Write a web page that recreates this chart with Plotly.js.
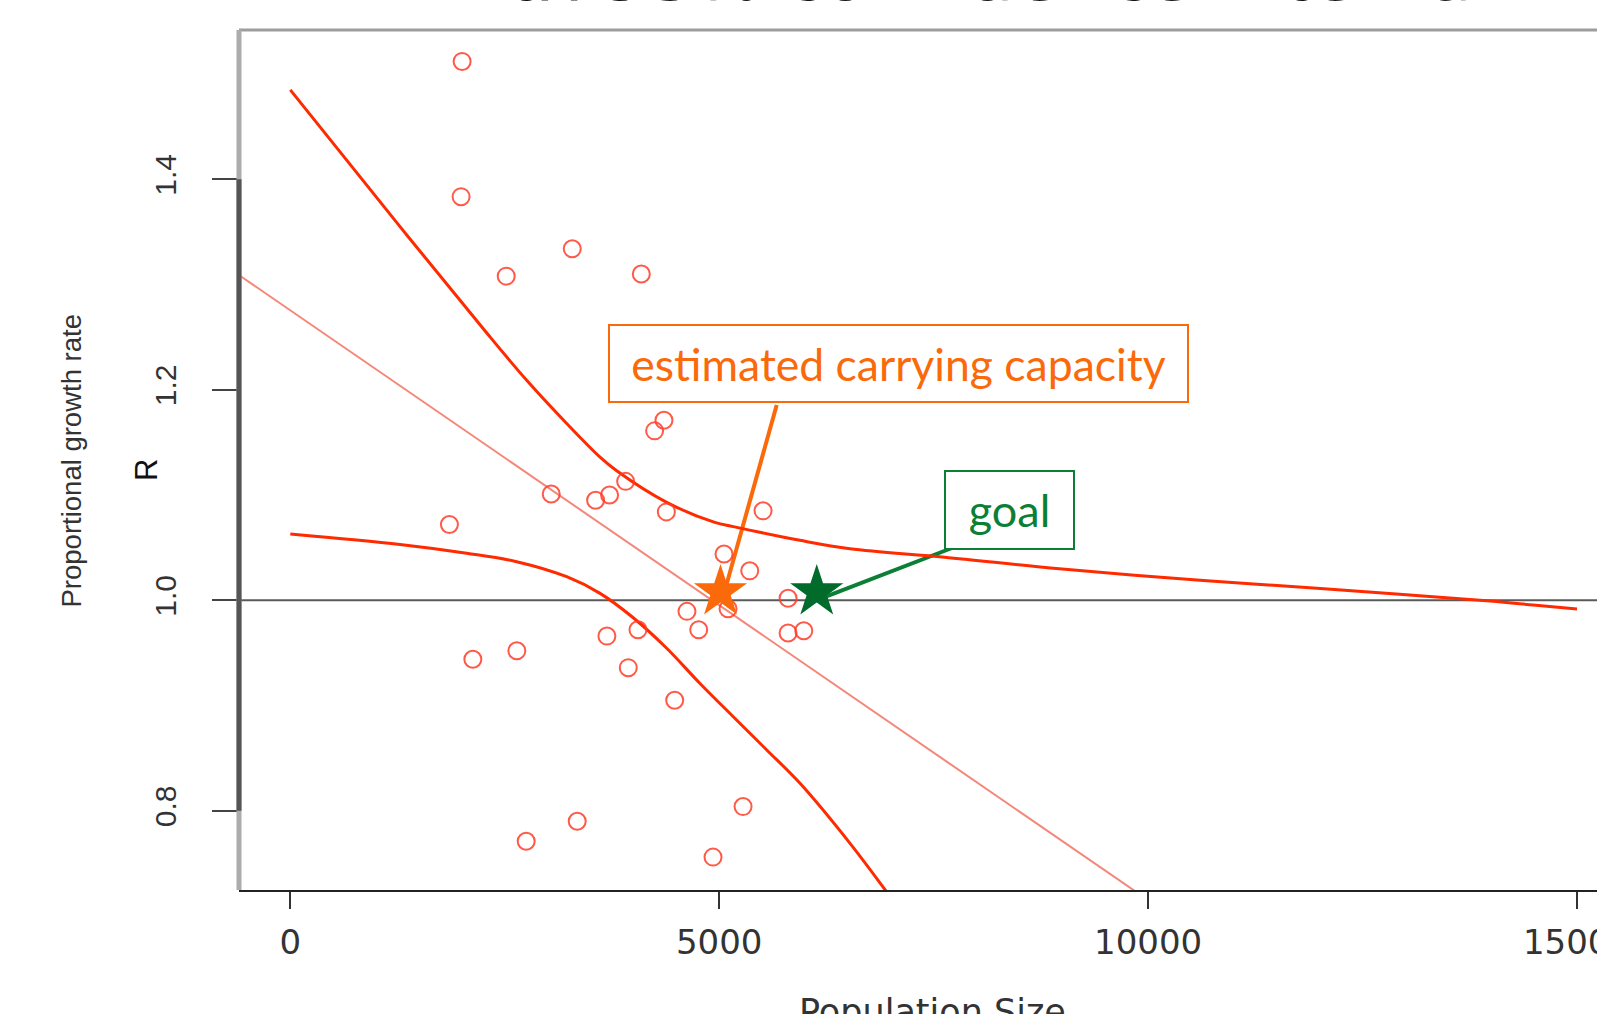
<!DOCTYPE html>
<html>
<head>
<meta charset="utf-8">
<script src="https://cdn.plot.ly/plotly-3.0.1.min.js"></script>
<style>
  html, body { margin: 0; padding: 0; background: #ffffff; }
  #chart { width: 1597px; height: 1014px; }
</style>
</head>
<body>
<div id="chart"></div>
<script>
// ---- data ----
const popSize = [2003, 1991, 3287, 2517, 4092, 4356, 4247, 3909, 3042, 3559, 3722, 4384, 5511, 1855, 5056, 5356,
                 5103, 5803, 4624, 4761, 4053, 3691, 5803, 5986, 2641, 2128, 3940, 4481, 5278, 3345, 2750, 4928];
const growthR = [1.512, 1.3835, 1.334, 1.308, 1.310, 1.171, 1.161, 1.113, 1.101, 1.095, 1.100, 1.084, 1.085, 1.072, 1.044, 1.028,
                 0.992, 1.002, 0.9895, 0.972, 0.972, 0.966, 0.969, 0.971, 0.952, 0.944, 0.936, 0.905, 0.804, 0.790, 0.771, 0.756];

const fitX = [-600, 12000];
const fitY = [1.3091, 0.6031];

const upperX = [0, 1279, 2250, 2756, 3222, 3611, 3805, 4388, 4949, 5164, 5942, 6525, 7626, 8964, 10605, 12050, 13985, 14490, 15000];
const upperY = [1.485, 1.355, 1.258, 1.209, 1.168, 1.136, 1.123, 1.093, 1.074, 1.070, 1.057, 1.049, 1.041, 1.030, 1.019, 1.011, 0.9993, 0.9955, 0.9917];

const lowerX = [0, 1279, 2056, 2639, 3222, 3611, 3998, 4388, 4776, 5164, 5554, 5942, 6525, 6944, 7000];
const lowerY = [1.063, 1.053, 1.0447, 1.0367, 1.0224, 1.0066, 0.9834, 0.9544, 0.921, 0.8894, 0.8578, 0.8261, 0.7691, 0.724, 0.718];

const carryingX = [5015];
const carryingY = [1.008];
const goalX = [6137];
const goalY = [1.008];

const xTickVals = [0, 5000, 10000, 15000];
const xTickText = ['0', '5000', '10000', '15000'];
const yTickVals = [0.8, 1.0, 1.2, 1.4];
const yTickText = ['0.8', '1.0', '1.2', '1.4'];

// ---- layout geometry (pixels) ----
const W = 1597, H = 1014;
const L = 239, R = 1597, T = 30, B = 890;
const px2x = p => (p - L) / (R - L);
const py2y = p => (B - p) / (B - T);

const ORANGE = '#FA6A0A';
const GREEN = '#0A7F35';
const STARGREEN = '#006B2A';

const traces = [
  { x: fitX, y: fitY, type: 'scatter', mode: 'lines',
    line: { color: '#F4877A', width: 2 }, hoverinfo: 'skip', showlegend: false },
  { x: upperX, y: upperY, type: 'scatter', mode: 'lines',
    line: { color: '#FF2A00', width: 3, shape: 'spline', smoothing: 1.0 }, showlegend: false },
  { x: lowerX, y: lowerY, type: 'scatter', mode: 'lines',
    line: { color: '#FF2A00', width: 3, shape: 'spline', smoothing: 1.0 }, showlegend: false },
  { x: popSize, y: growthR, type: 'scatter', mode: 'markers',
    marker: { symbol: 'circle-open', size: 17, color: 'rgba(255,60,40,0.85)', line: { width: 2 } },
    showlegend: false },
  { x: carryingX, y: carryingY, type: 'scatter', mode: 'markers',
    marker: { symbol: 'star', size: 40, color: ORANGE, line: { width: 0 } }, showlegend: false },
  { x: goalX, y: goalY, type: 'scatter', mode: 'markers',
    marker: { symbol: 'star', size: 40, color: STARGREEN, line: { width: 0 } }, showlegend: false }
];

const layout = {
  width: W, height: H,
  margin: { l: L, r: W - R, t: T, b: H - B, pad: 0 },
  paper_bgcolor: '#ffffff', plot_bgcolor: '#ffffff',
  showlegend: false,
  xaxis: {
    range: [-598, 15233], showgrid: false, zeroline: false,
    showline: true, linecolor: '#222222', linewidth: 2,
    ticks: 'outside', ticklen: 17, tickwidth: 2, tickcolor: '#333333',
    tickvals: xTickVals, ticktext: xTickText,
    ticklabelstandoff: 4, ticklabeloverflow: 'allow',
    tickfont: { family: 'DejaVu Sans', size: 34, color: '#333333' }
  },
  yaxis: {
    range: [0.72475, 1.54185], showgrid: false, zeroline: false,
    showline: false,
    ticks: 'outside', ticklen: 26, tickwidth: 2, tickcolor: '#444444',
    tickvals: yTickVals, ticktext: yTickText, tickangle: -90,
    ticklabelstandoff: 24,
    tickfont: { family: 'Liberation Sans, Arial, sans-serif', size: 30, color: '#333333' }
  },
  shapes: [
    { type: 'line', xref: 'paper', yref: 'paper', x0: 0, x1: 1, y0: 1, y1: 1,
      line: { color: '#9d9d9d', width: 3 }, layer: 'above' },
    { type: 'line', xref: 'paper', yref: 'paper', x0: 0, x1: 0, y0: 0, y1: 1,
      line: { color: '#acacac', width: 5 }, layer: 'above' },
    { type: 'line', xref: 'paper', yref: 'y', x0: 0, x1: 0, y0: 0.8, y1: 1.4,
      line: { color: '#555555', width: 5 }, layer: 'above' },
    { type: 'line', xref: 'paper', yref: 'y', x0: 0, x1: 1, y0: 1, y1: 1,
      line: { color: '#5a5a5a', width: 2 }, layer: 'below' },
    { type: 'line', xref: 'paper', yref: 'paper',
      x0: px2x(776.7), y0: py2y(405), x1: px2x(725), y1: py2y(590),
      line: { color: ORANGE, width: 4 }, layer: 'below' },
    { type: 'line', xref: 'paper', yref: 'paper',
      x0: px2x(952), y0: py2y(548), x1: px2x(825.8), y1: py2y(596.7),
      line: { color: GREEN, width: 4 }, layer: 'below' }
  ],
  annotations: [
    { text: 'with 95% confidence interval', xref: 'paper', yref: 'paper',
      x: px2x(958), y: py2y(25), xanchor: 'center', yanchor: 'bottom', showarrow: false,
      font: { family: 'Open Sans', size: 80, color: '#151515' } },
    { text: 'Proportional growth rate', xref: 'paper', yref: 'paper',
      x: px2x(71), y: py2y(460.5), xanchor: 'center', yanchor: 'middle', textangle: -90, showarrow: false,
      font: { family: 'Liberation Sans, Arial, sans-serif', size: 27.5, color: '#333333' } },
    { text: 'R', xref: 'paper', yref: 'paper',
      x: px2x(146), y: py2y(470), xanchor: 'center', yanchor: 'middle', textangle: -90, showarrow: false,
      font: { family: 'Liberation Sans, Arial, sans-serif', size: 31, color: '#111111' } },
    { text: 'Population Size', xref: 'paper', yref: 'paper',
      x: px2x(932), y: py2y(990), xanchor: 'center', yanchor: 'top', showarrow: false,
      font: { family: 'DejaVu Sans', size: 35, color: '#333333' } },
    { text: 'estimated carrying capacity', xref: 'paper', yref: 'paper',
      x: px2x(898.5), y: py2y(363.6), xanchor: 'center', yanchor: 'middle', showarrow: false,
      width: 577, height: 75, align: 'center', valign: 'middle',
      bgcolor: '#ffffff', bordercolor: ORANGE, borderwidth: 2, borderpad: 0,
      font: { family: 'Lato', size: 44.5, color: ORANGE } },
    { text: 'goal', xref: 'paper', yref: 'paper',
      x: px2x(1009), y: py2y(510), xanchor: 'center', yanchor: 'middle', showarrow: false,
      width: 127, height: 76, align: 'center', valign: 'middle',
      bgcolor: '#ffffff', bordercolor: GREEN, borderwidth: 2, borderpad: 0,
      font: { family: 'Lato', size: 45, color: GREEN } }
  ]
};

Plotly.newPlot('chart', traces, layout, { displayModeBar: false, staticPlot: true });
</script>
</body>
</html>
